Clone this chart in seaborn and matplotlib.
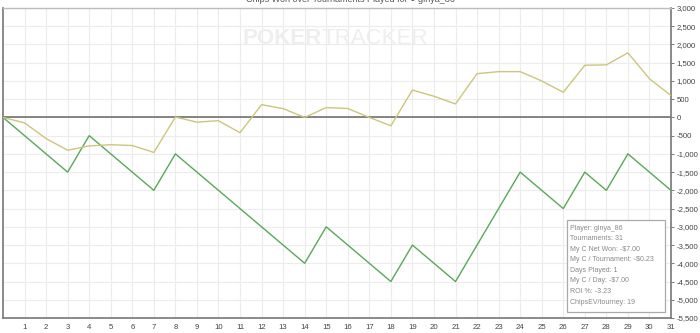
import matplotlib
matplotlib.use("Agg")
import matplotlib.pyplot as plt
import seaborn as sns
import pandas as pd
from matplotlib.ticker import FuncFormatter
from matplotlib.patches import Rectangle

tournaments = list(range(0, 32))
chips_won = [0, -500, -1000, -1500, -500, -1000, -1500, -2000, -1000, -1500,
             -2000, -2500, -3000, -3500, -4000, -3000, -3500, -4000, -4500, -3500,
             -4000, -4500, -3500, -2500, -1500, -2000, -2500, -1500, -2000, -1000,
             -1500, -2000]
chips_ev = [0, -150, -580, -900, -780, -750, -770, -960, 10, -130,
            -90, -420, 350, 240, 0, 270, 245, 0, -230, 750,
            580, 370, 1200, 1255, 1255, 1000, 690, 1430, 1440, 1770,
            1060, 600]
series_names = ["Chips Won", "ChipsEV"]
y_ticks = list(range(-5500, 3001, 500))
info_lines = ["Player: ginya_86", "Tournaments: 31", "My C Net Won: -$7.00",
              "My C / Tournament: -$0.23", "Days Played: 1", "My C / Day: -$7.00",
              "ROI %: -3.23", "ChipsEV/tourney: 19"]
title = "Chips Won over Tournaments Played for \u25cf ginya_86"

df = pd.DataFrame({
    "t": tournaments * 2,
    "v": chips_won + chips_ev,
    "s": [series_names[0]] * len(tournaments) + [series_names[1]] * len(tournaments),
})

sns.set_style("white")
plt.rcParams['font.family'] = ['Liberation Sans', 'DejaVu Sans']

W, H = 700, 333
fig = plt.figure(figsize=(7, 3.33), dpi=100)
ax_l, ax_r, ax_t, ax_b = 3, 671, 8, 318
ax = fig.add_axes([ax_l / W, 1 - ax_b / H, (ax_r - ax_l) / W, (ax_b - ax_t) / H])

ax.set_axisbelow(True)
ax.grid(True, color="#ececec", linewidth=0.8)
ax.axhline(0, color="#707070", linewidth=1.2, zorder=1)

sns.lineplot(data=df, x="t", y="v", hue="s", ax=ax,
             palette={series_names[0]: "#5aa75a", series_names[1]: "#cdc57c"},
             linewidth=1.0, legend=False, zorder=3)

ax.set_xlim(0, 31)
ax.set_ylim(-5500, 3000)
ax.set_xticks(list(range(1, 32)))
ax.set_yticks(y_ticks)
ax.yaxis.set_major_formatter(FuncFormatter(lambda v, p: f"{int(v):,}"))
ax.yaxis.tick_right()
ax.set_xlabel("")
ax.set_ylabel("")
ax.tick_params(axis="both", labelsize=5.6, colors="#666666", labelcolor="#444444",
               length=2.5, width=0.6, direction="out", pad=1.5)

for side in ["left", "bottom", "right"]:
    ax.spines[side].set_color("#777777")
    ax.spines[side].set_linewidth(1.2)
ax.spines["top"].set_color("#bbbbbb")
ax.spines["top"].set_linewidth(1.0)

# watermark
fig.text(322 / W, 1 - 38 / H, "POKER", fontsize=16, fontweight="bold", color="#eeeeee",
         ha="right", va="center", zorder=0)
fig.text(322 / W, 1 - 38 / H, "TRACKER", fontsize=16, color="#eeeeee",
         ha="left", va="center", zorder=0)

# title (clipped at top, as in the source)
fig.text(0.5, 1.002, title, fontsize=6.5, color="#555555", ha="center", va="center")

# info box
bx0, bx1, by0, by1 = 567, 665, 220, 312
box = Rectangle((bx0 / W, 1 - by1 / H), (bx1 - bx0) / W, (by1 - by0) / H,
                transform=fig.transFigure, facecolor="white", edgecolor="#aaaaaa",
                linewidth=0.9, zorder=5)
fig.patches.append(box)
for i, line in enumerate(info_lines):
    yy = 228 + i * 10.6
    fig.text(570 / W, 1 - yy / H, line, fontsize=5.0, color="#888888",
             ha="left", va="center", zorder=6)

fig.savefig("out.png", dpi=100)
